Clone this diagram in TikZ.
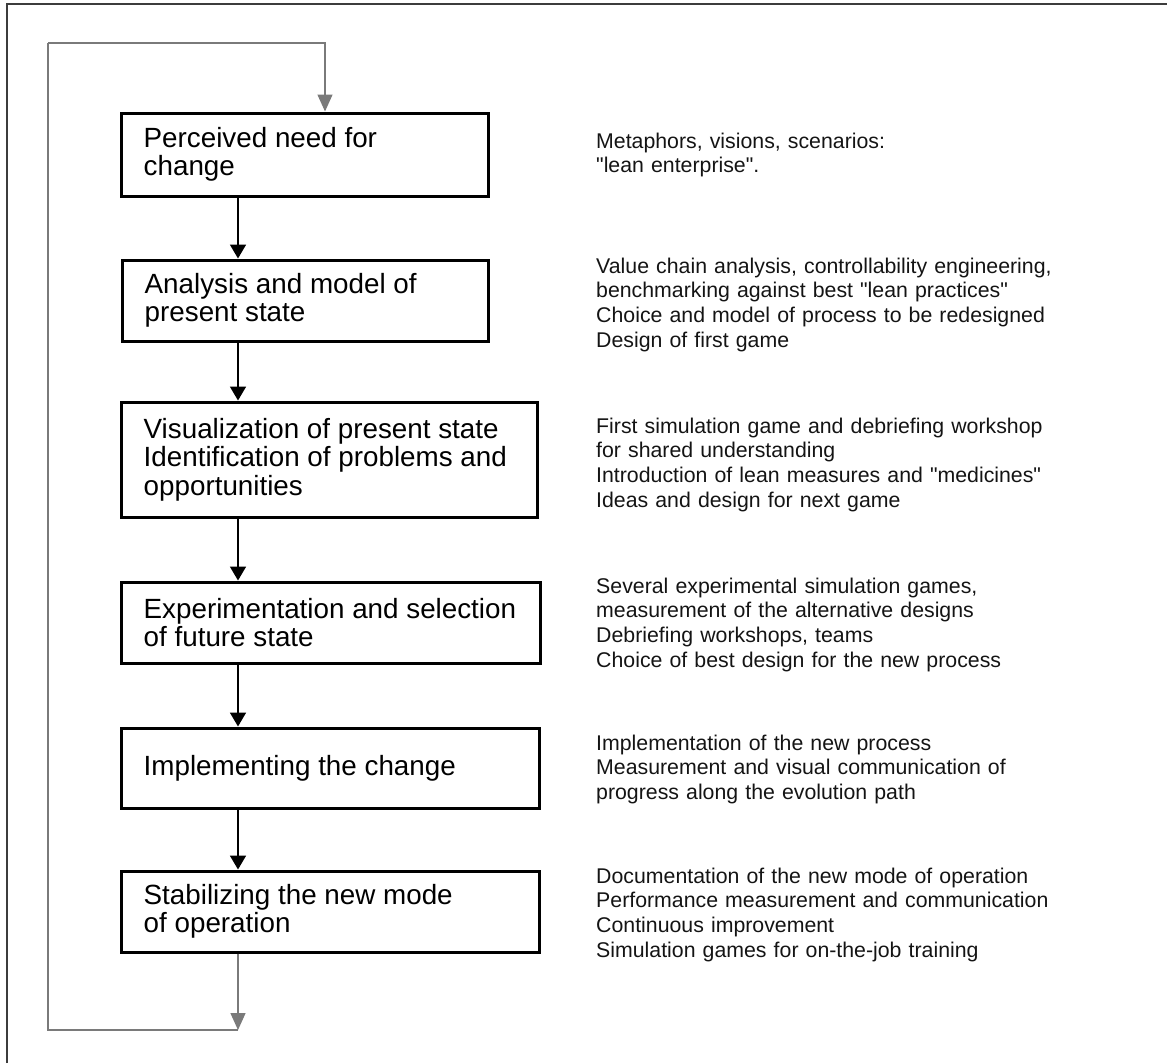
\documentclass[tikz,border=0pt]{standalone}
\usepackage{fontspec}
% no TeX ligature mapping, so " stays a straight quote
\setmainfont{Liberation Sans}[Ligatures=TeXOff]
\usetikzlibrary{arrows.meta}
\definecolor{loopgray}{HTML}{7A7A7A}
\definecolor{framegray}{HTML}{3C3C3C}
\begin{document}
\begin{tikzpicture}[x=1pt,y=-1pt,
  stepbox/.style={draw=black, line width=3pt, rectangle, inner sep=0pt, fill=white},
  steptext/.style={anchor=west, inner sep=0pt, align=left,
    font=\fontsize{27.8}{28.5}\selectfont},
  note/.style={anchor=base west, inner sep=0pt, align=left, text width=540pt,
    text=black!92, font=\fontsize{21.3}{24.7}\selectfont},
  flow/.style={draw=black, line width=1.8pt, -{Triangle[width=16pt,length=14pt]}},
  feedback/.style={draw=loopgray, line width=1.4pt, -{Triangle[width=15pt,length=17pt]}},
  feedline/.style={draw=loopgray, line width=1.4pt},
  frame/.style={draw=framegray, line width=2pt}
]
\useasboundingbox (0,0) rectangle (1167,1063);

% outer frame (open towards right and bottom)
\draw[frame] (7,1063) -- (7,4) -- (1167,4);

% process steps
\node[stepbox, minimum width=367pt, minimum height=83pt]  (b1) at (304.5,154.5) {};
\node[stepbox, minimum width=366pt, minimum height=81pt]  (b2) at (305,300.5) {};
\node[stepbox, minimum width=416pt, minimum height=115pt] (b3) at (329,459.5) {};
\node[stepbox, minimum width=419pt, minimum height=81pt]  (b4) at (330.5,622.5) {};
\node[stepbox, minimum width=418pt, minimum height=80pt]  (b5) at (330,768) {};
\node[stepbox, minimum width=418pt, minimum height=81pt]  (b6) at (330,911.5) {};

\node[steptext] (t1) at ([xshift=24pt]b1.west) {Perceived need for\\change};
\node[steptext] (t2) at ([xshift=24pt]b2.west) {Analysis and model of\\present state};
\node[steptext] (t3) at ([xshift=24pt]b3.west) {Visualization of present state\\Identification of problems and\\opportunities};
\node[steptext] (t4) at ([xshift=24pt]b4.west) {Experimentation and selection\\of future state};
\node[steptext] (t5) at ([xshift=24pt]b5.west) {Implementing the change};
\node[steptext] (t6) at ([xshift=24pt]b6.west) {Stabilizing the new mode\\of operation};

% methods and tools for each step
\node[note] (r1) at (596,148) {Metaphors, visions, scenarios:\\"lean enterprise".};
\node[note] (r2) at (596,273) {Value chain analysis, controllability engineering,\\benchmarking against best "lean practices"\\Choice and model of process to be redesigned\\Design of first game};
\node[note] (r3) at (596,433) {First simulation game and debriefing workshop\\for shared understanding\\Introduction of lean measures and "medicines"\\Ideas and design for next game};
\node[note] (r4) at (596,593) {Several experimental simulation games,\\measurement of the alternative designs\\Debriefing workshops, teams\\Choice of best design for the new process};
\node[note] (r5) at (596,750) {Implementation of the new process\\Measurement and visual communication of\\progress along the evolution path};
\node[note] (r6) at (596,883) {Documentation of the new mode of operation\\Performance measurement and communication\\Continuous improvement\\Simulation games for on-the-job training};

% guide coordinates for the connectors
\coordinate (spine) at (238,0);
\coordinate (entry) at (325,0);
\coordinate (loopleft) at (48,0);
\coordinate (looptop) at (0,43);
\coordinate (loopbottom) at (0,1030);

% main flow
\draw[flow] (b1.south -| spine) -- (b2.north -| spine);
\draw[flow] (b2.south -| spine) -- (b3.north -| spine);
\draw[flow] (b3.south -| spine) -- (b4.north -| spine);
\draw[flow] (b4.south -| spine) -- (b5.north -| spine);
\draw[flow] (b5.south -| spine) -- (b6.north -| spine);

% feedback loop back to the start
\draw[feedback] (b6.south -| spine) -- (spine |- loopbottom);
\draw[feedline] (spine |- loopbottom) -| (loopleft |- looptop);
\draw[feedback] (loopleft |- looptop) -| (entry |- b1.north);
\end{tikzpicture}
\end{document}
